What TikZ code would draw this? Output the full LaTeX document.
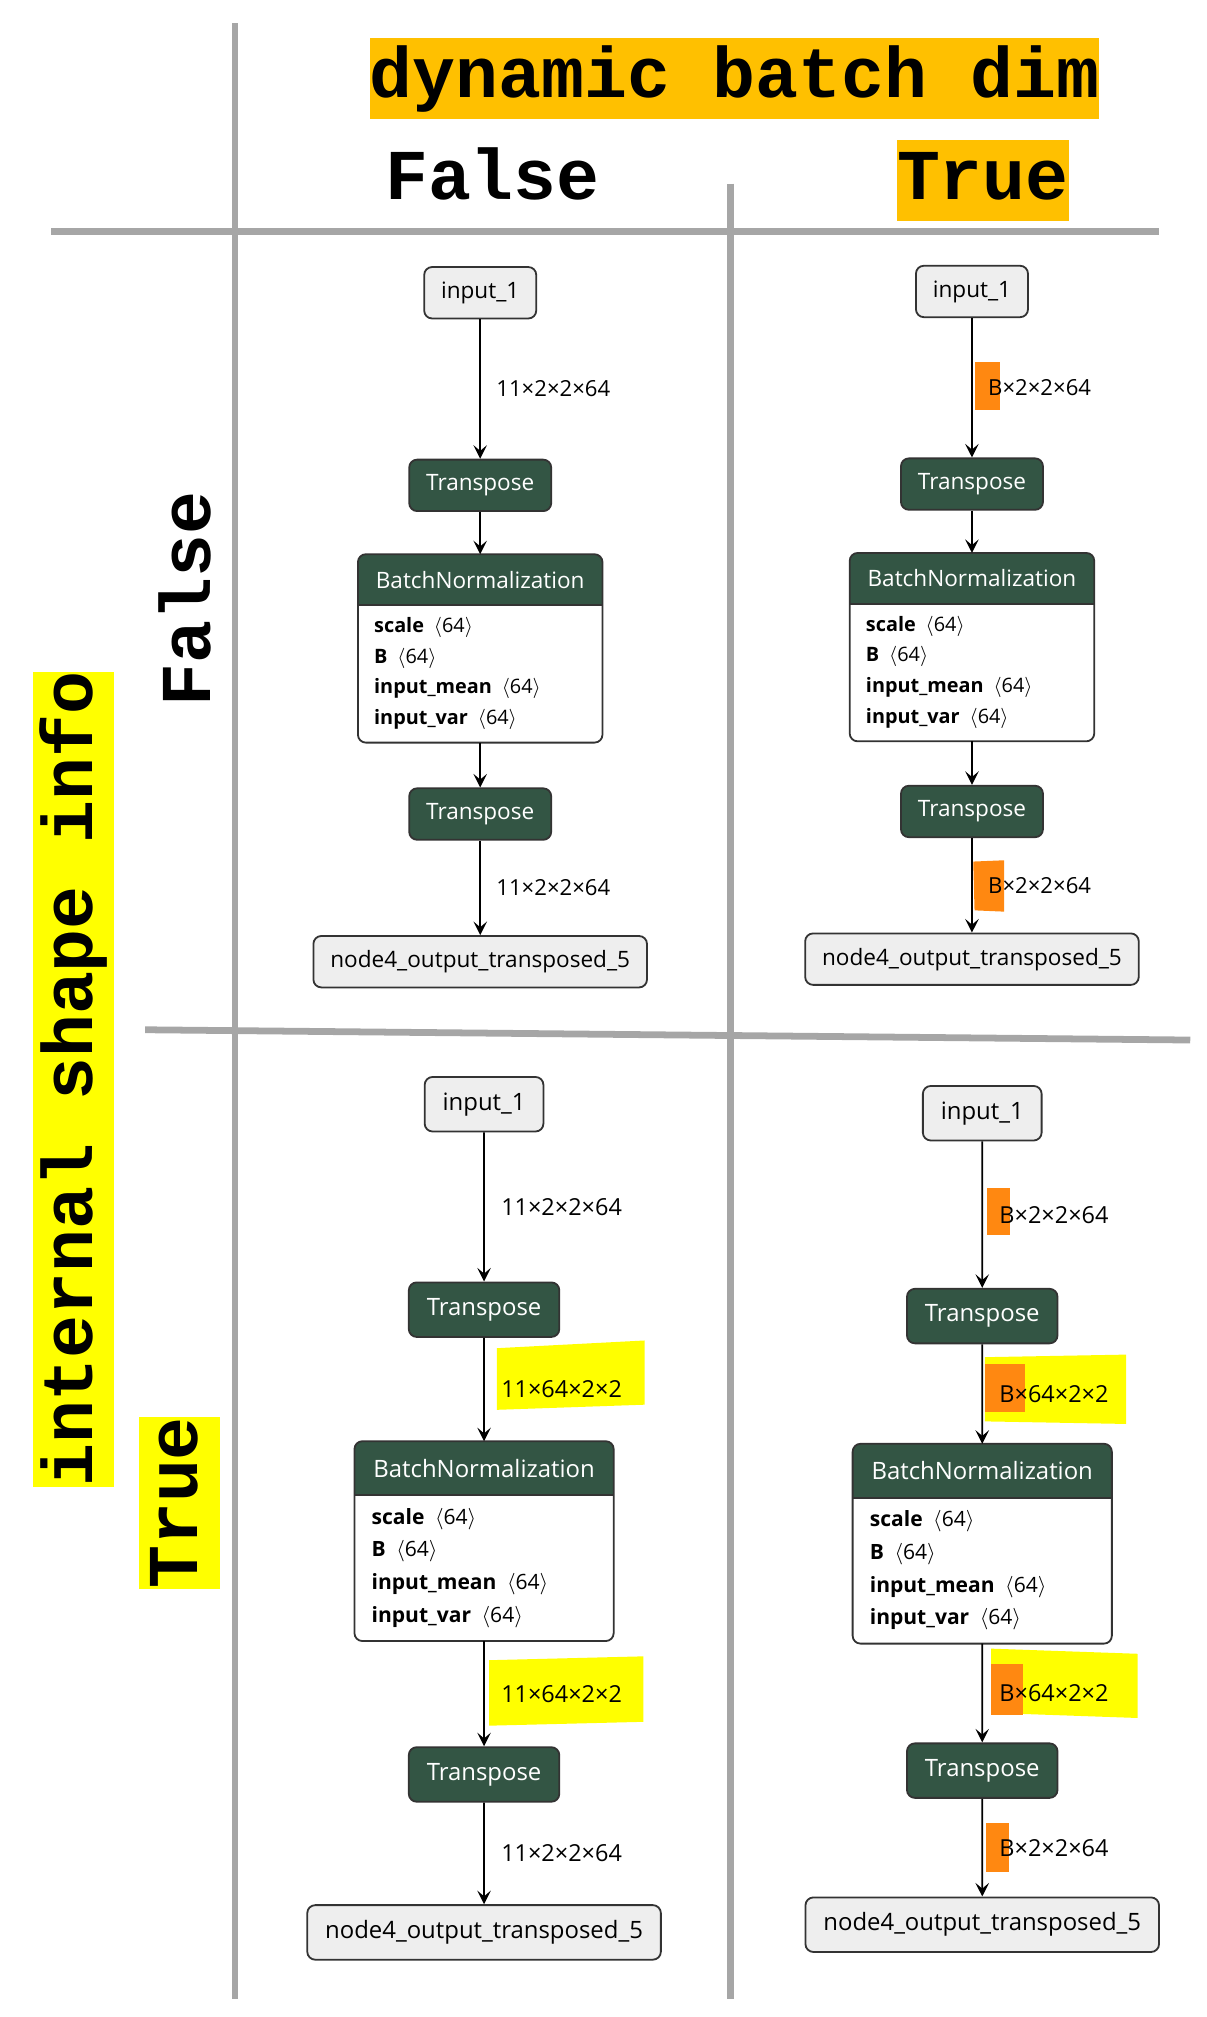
\documentclass[tikz,border=0pt]{standalone}
\usepackage{fontspec}
\usetikzlibrary{arrows.meta,backgrounds}
\newfontfamily\netfont{Open Sans}
\newfontfamily\hdrfont{Liberation Mono}
\definecolor{tgreen}{RGB}{51,85,68}
\definecolor{nlight}{RGB}{238,238,238}
\definecolor{nborder}{RGB}{51,51,51}
\definecolor{sepgray}{RGB}{166,166,166}
\definecolor{hlorange}{RGB}{255,192,0}
\definecolor{hlyellow}{RGB}{255,255,0}
\definecolor{hlmark}{RGB}{255,136,17}
\tikzset{
  io/.style={draw=nborder, fill=nlight, rounded corners=3.5pt, line width=0.8pt, minimum height=22.8pt, inner xsep=7.5pt, inner ysep=0pt, font=\netfont\fontsize{10}{12}\selectfont},
  op/.style={io, fill=tgreen, text=white},
  bnhead/.style={text=white, minimum width=108pt, minimum height=22.2pt, inner sep=0pt, font=\netfont\fontsize{10}{12}\selectfont},
  bnbody/.style={fill=white, text width=94pt, inner xsep=7pt, inner ysep=0pt, minimum height=60.9pt, align=left, font=\netfont\fontsize{8.8}{13.66}\selectfont},
  bnline/.style={draw=nborder, line width=0.8pt},
  edge/.style={line width=0.8pt, -{Stealth[length=6pt,width=6pt,inset=2.5pt]}},
  elabel/.style={right=6.8pt, inner sep=0pt, font=\netfont\fontsize{9.8}{12}\selectfont},
  title/.style={font=\hdrfont\bfseries\fontsize{31.7}{36}\selectfont, inner sep=0pt, text height=26.2pt, text depth=9.7pt},
  grid/.style={draw=sepgray, line width=3pt},
}
\newcommand{\bnattrs}{\textbf{scale}\,~$\langle$64$\rangle$\\\textbf{B}\,~$\langle$64$\rangle$\\\textbf{input\_mean}\,~$\langle$64$\rangle$\\\textbf{input\_var}\,~$\langle$64$\rangle$}
\begin{document}
\begin{tikzpicture}[x=0.02cm, y=-0.02cm]
\useasboundingbox (0,0) rectangle (940,1570.9);
% marker highlights
\fill[hlmark] (759,282) rectangle (779,319);
\fill[hlmark] (758,671) -- (782,670) -- (782,710) -- (759,709) -- cycle;
\fill[hlyellow] (387,1050) -- (502,1044) -- (502,1094) -- (387,1098) -- cycle;
\fill[hlyellow] (381,1293) -- (501,1290) -- (501,1341) -- (381,1344) -- cycle;
\fill[hlmark] (769,925) rectangle (787,962);
\fill[hlyellow] (767,1057) -- (877,1055) -- (877,1109) -- (767,1107) -- cycle;
\fill[hlmark] (767,1062) rectangle (798,1100);
\fill[hlyellow] (772,1284) -- (886,1288) -- (886,1338) -- (772,1334) -- cycle;
\fill[hlmark] (772,1296) rectangle (797,1336);
\fill[hlmark] (768,1420) rectangle (786,1458);
% axes
\draw[grid] (183,18) -- (183,1557);
\draw[grid] (40,180) -- (903,180);
\draw[grid] (569,143) -- (569,1557);
\draw[grid] (113,802) -- (927,810);
\node[title, fill=hlorange] (ttl) at (572,61.5) {dynamic batch dim};
\node[title] (colF) at (383.5,140.5) {False};
\node[title, fill=hlorange] (colT) at (765.5,140.5) {True};
\node[title, fill=hlyellow, rotate=90] (rowlbl) at (57.5,840.5) {internal shape info};
\node[title, rotate=90] (rowF) at (149.5,466.5) {False};
\node[title, fill=hlyellow, rotate=90] (rowT) at (139.5,1170.5) {True};
% false / false
\node[io] (in0) at (374,228) {input\_1};
\node[op] (tp0a) at (374,378) {Transpose};
\node[bnhead] (bn0) at (374,451.5) {BatchNormalization};
\node[bnbody] (bn0a) at (374,524.5) {\bnattrs};
\node[op] (tp0b) at (374,634) {Transpose};
\node[io] (out0) at (374,749) {node4\_output\_transposed\_5};
\begin{scope}[on background layer]
\fill[tgreen, rounded corners=3.5pt] (bn0.south west) -- (bn0.north west) -- (bn0.north east) -- (bn0.south east);
\end{scope}
\draw[bnline, rounded corners=3.5pt] (bn0.north west) rectangle (bn0a.south east);
\draw[bnline] (bn0.south west) -- (bn0.south east);
\draw[edge] (in0) -- node[elabel]{11×2×2×64} (tp0a);
\draw[edge] (tp0a) -- (bn0);
\draw[edge] (bn0a) -- (tp0b);
\draw[edge] (tp0b) -- node[elabel]{11×2×2×64} (out0);
% false / true
\node[io] (in1) at (757,227) {input\_1};
\node[op] (tp1a) at (757,377) {Transpose};
\node[bnhead] (bn1) at (757,450.5) {BatchNormalization};
\node[bnbody] (bn1a) at (757,523.5) {\bnattrs};
\node[op] (tp1b) at (757,632) {Transpose};
\node[io] (out1) at (757,747) {node4\_output\_transposed\_5};
\begin{scope}[on background layer]
\fill[tgreen, rounded corners=3.5pt] (bn1.south west) -- (bn1.north west) -- (bn1.north east) -- (bn1.south east);
\end{scope}
\draw[bnline, rounded corners=3.5pt] (bn1.north west) rectangle (bn1a.south east);
\draw[bnline] (bn1.south west) -- (bn1.south east);
\draw[edge] (in1) -- node[elabel]{B×2×2×64} (tp1a);
\draw[edge] (tp1a) -- (bn1);
\draw[edge] (bn1a) -- (tp1b);
\draw[edge] (tp1b) -- node[elabel]{B×2×2×64} (out1);
\begin{scope}[every node/.append style={scale=1.06}]
% true / false
\node[io] (in2) at (377,860) {input\_1};
\node[op] (tp2a) at (377,1020) {Transpose};
\node[bnhead] (bn2) at (377,1143.5) {BatchNormalization};
\node[bnbody] (bn2a) at (377,1221) {\bnattrs};
\node[op] (tp2b) at (377,1382) {Transpose};
\node[io] (out2) at (377,1505) {node4\_output\_transposed\_5};
\begin{scope}[on background layer]
\fill[tgreen, rounded corners=3.5pt] (bn2.south west) -- (bn2.north west) -- (bn2.north east) -- (bn2.south east);
\end{scope}
\draw[bnline, rounded corners=3.5pt] (bn2.north west) rectangle (bn2a.south east);
\draw[bnline] (bn2.south west) -- (bn2.south east);
\draw[edge] (in2) -- node[elabel]{11×2×2×64} (tp2a);
\draw[edge] (tp2a) -- node[elabel]{11×64×2×2} (bn2);
\draw[edge] (bn2a) -- node[elabel]{11×64×2×2} (tp2b);
\draw[edge] (tp2b) -- node[elabel]{11×2×2×64} (out2);
% true / true
\node[io] (in3) at (765,867) {input\_1};
\node[op] (tp3a) at (765,1025) {Transpose};
\node[bnhead] (bn3) at (765,1145.5) {BatchNormalization};
\node[bnbody] (bn3a) at (765,1223) {\bnattrs};
\node[op] (tp3b) at (765,1379) {Transpose};
\node[io] (out3) at (765,1499) {node4\_output\_transposed\_5};
\begin{scope}[on background layer]
\fill[tgreen, rounded corners=3.5pt] (bn3.south west) -- (bn3.north west) -- (bn3.north east) -- (bn3.south east);
\end{scope}
\draw[bnline, rounded corners=3.5pt] (bn3.north west) rectangle (bn3a.south east);
\draw[bnline] (bn3.south west) -- (bn3.south east);
\draw[edge] (in3) -- node[elabel]{B×2×2×64} (tp3a);
\draw[edge] (tp3a) -- node[elabel]{B×64×2×2} (bn3);
\draw[edge] (bn3a) -- node[elabel]{B×64×2×2} (tp3b);
\draw[edge] (tp3b) -- node[elabel]{B×2×2×64} (out3);
\end{scope}
\end{tikzpicture}
\end{document}
